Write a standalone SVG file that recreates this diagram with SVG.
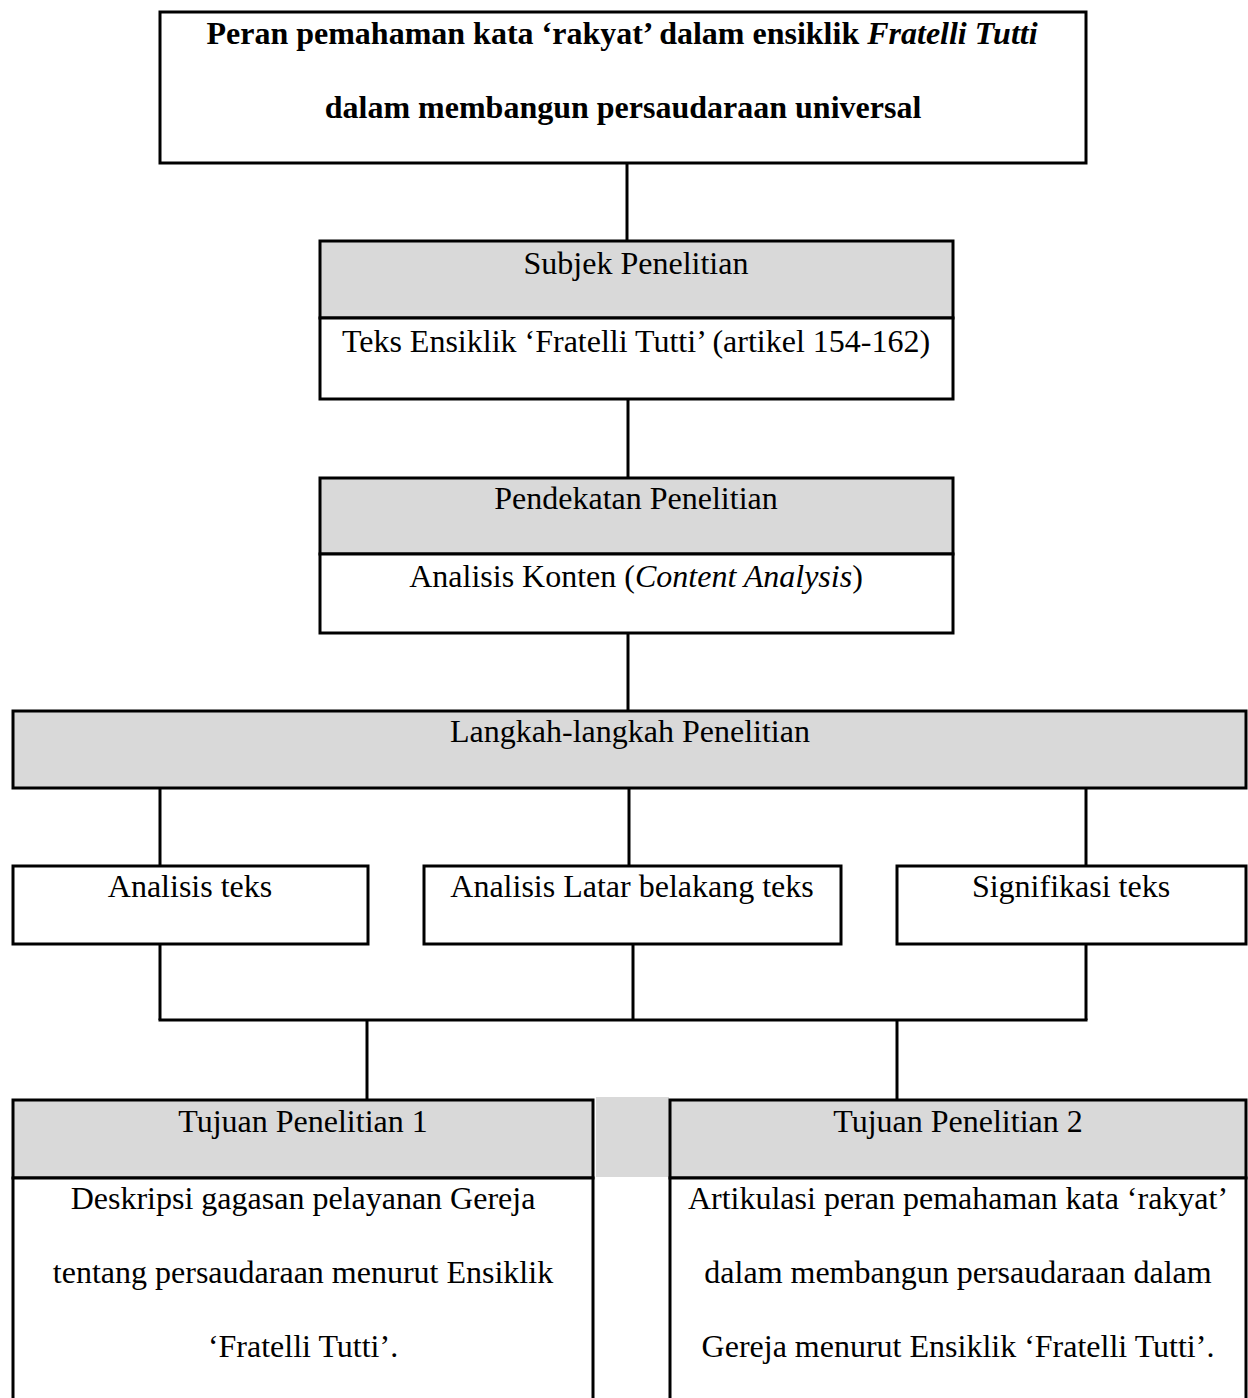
<svg xmlns="http://www.w3.org/2000/svg" width="1248" height="1398" viewBox="0 0 1248 1398">
<style>
.box{fill:#ffffff;stroke:#000000;stroke-width:3}
.hdr{fill:#d9d9d9;stroke:#000000;stroke-width:3}
.con{fill:none;stroke:#000000;stroke-width:3}
text{font-family:"Liberation Serif","Times New Roman",serif;font-size:32px;fill:#000000;text-anchor:middle}
.b{font-weight:bold}
.i{font-style:italic}
</style>
<rect x="0" y="0" width="1248" height="1398" fill="#ffffff"/>
<g id="connectors">
<line class="con" x1="627" y1="163" x2="627" y2="241"/>
<line class="con" x1="628" y1="399" x2="628" y2="478"/>
<line class="con" x1="628" y1="633" x2="628" y2="711"/>
<line class="con" x1="160" y1="788" x2="160" y2="866"/>
<line class="con" x1="629" y1="788" x2="629" y2="866"/>
<line class="con" x1="1086" y1="788" x2="1086" y2="866"/>
<line class="con" x1="160" y1="944" x2="160" y2="1020"/>
<line class="con" x1="633" y1="944" x2="633" y2="1020"/>
<line class="con" x1="1086" y1="944" x2="1086" y2="1020"/>
<line class="con" x1="158.5" y1="1020" x2="1087.5" y2="1020"/>
<line class="con" x1="367" y1="1020" x2="367" y2="1100"/>
<line class="con" x1="897" y1="1020" x2="897" y2="1100"/>
</g>
<g id="title">
<rect class="box" x="160" y="12" width="926" height="151"/>
<text class="b" x="622" y="44">Peran pemahaman kata ‘rakyat’ dalam ensiklik <tspan class="i">Fratelli Tutti</tspan></text>
<text class="b" x="623" y="118">dalam membangun persaudaraan universal</text>
</g>
<g id="subjek">
<rect class="hdr" x="320" y="241" width="633" height="77"/>
<rect class="box" x="320" y="318" width="633" height="81"/>
<text x="636" y="274">Subjek Penelitian</text>
<text x="636" y="352">Teks Ensiklik ‘Fratelli Tutti’ (artikel 154-162)</text>
</g>
<g id="pendekatan">
<rect class="hdr" x="320" y="478" width="633" height="76"/>
<rect class="box" x="320" y="554" width="633" height="79"/>
<text x="636" y="509">Pendekatan Penelitian</text>
<text x="636" y="587">Analisis Konten (<tspan class="i">Content Analysis</tspan>)</text>
</g>
<g id="langkah">
<rect class="hdr" x="13" y="711" width="1233" height="77"/>
<text x="630" y="742">Langkah-langkah Penelitian</text>
</g>
<g id="analisis-teks">
<rect class="box" x="13" y="866" width="355" height="78"/>
<text x="190" y="897">Analisis teks</text>
</g>
<g id="analisis-latar">
<rect class="box" x="424" y="866" width="417" height="78"/>
<text x="632" y="897">Analisis Latar belakang teks</text>
</g>
<g id="signifikasi">
<rect class="box" x="897" y="866" width="349" height="78"/>
<text x="1071" y="897">Signifikasi teks</text>
</g>
<rect x="596" y="1097" width="73" height="80" fill="#d9d9d9"/>
<g id="tujuan1">
<rect class="hdr" x="13" y="1100" width="580" height="78"/>
<rect class="box" x="13" y="1178" width="580" height="240"/>
<text x="303" y="1132">Tujuan Penelitian 1</text>
<text x="303" y="1209">Deskripsi gagasan pelayanan Gereja</text>
<text x="303" y="1283">tentang persaudaraan menurut Ensiklik</text>
<text x="303" y="1357">‘Fratelli Tutti’.</text>
</g>
<g id="tujuan2">
<rect class="hdr" x="670" y="1100" width="576" height="78"/>
<rect class="box" x="670" y="1178" width="576" height="240"/>
<text x="958" y="1132">Tujuan Penelitian 2</text>
<text x="958" y="1209">Artikulasi peran pemahaman kata ‘rakyat’</text>
<text x="958" y="1283">dalam membangun persaudaraan dalam</text>
<text x="958" y="1357">Gereja menurut Ensiklik ‘Fratelli Tutti’.</text>
</g>
</svg>
